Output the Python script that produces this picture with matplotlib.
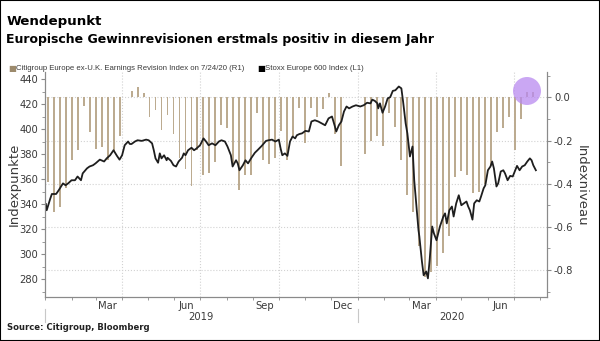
import pandas as pd
import matplotlib.pyplot as plt
import matplotlib.dates as mdates
import matplotlib.ticker as mticker
import matplotlib.transforms as mtransforms
from matplotlib.patches import Ellipse, Rectangle

plt.rcParams['font.family'] = ['DejaVu Sans']
plt.rcParams['axes.unicode_minus'] = False

# Stoxx Europe 600 (linke Achse, Indexpunkte)
stoxx_dates = [
    '2019-01-02', '2019-01-03', '2019-01-07', '2019-01-09', '2019-01-14', '2019-01-17',
    '2019-01-22', '2019-01-25', '2019-01-28', '2019-02-01', '2019-02-05', '2019-02-08',
    '2019-02-12', '2019-02-14', '2019-02-19', '2019-02-22', '2019-02-26', '2019-03-01',
    '2019-03-06', '2019-03-11', '2019-03-14', '2019-03-18', '2019-03-22', '2019-03-26',
    '2019-03-29', '2019-04-01', '2019-04-04', '2019-04-08', '2019-04-10', '2019-04-12',
    '2019-04-16', '2019-04-19', '2019-04-24', '2019-04-29', '2019-05-02', '2019-05-06',
    '2019-05-08', '2019-05-10', '2019-05-13', '2019-05-15', '2019-05-17', '2019-05-20',
    '2019-05-23', '2019-05-24', '2019-05-28', '2019-05-31', '2019-06-03', '2019-06-06',
    '2019-06-10', '2019-06-12', '2019-06-14', '2019-06-17', '2019-06-21', '2019-06-24',
    '2019-06-27', '2019-07-01', '2019-07-05', '2019-07-08', '2019-07-11', '2019-07-15',
    '2019-07-19', '2019-07-23', '2019-07-26', '2019-07-30', '2019-08-02', '2019-08-06',
    '2019-08-08', '2019-08-12', '2019-08-14', '2019-08-16', '2019-08-20', '2019-08-23',
    '2019-08-26', '2019-08-30', '2019-09-03', '2019-09-06', '2019-09-11', '2019-09-16',
    '2019-09-19', '2019-09-23', '2019-09-27', '2019-10-01', '2019-10-03', '2019-10-05',
    '2019-10-08', '2019-10-11', '2019-10-14', '2019-10-17', '2019-10-20', '2019-10-22',
    '2019-10-25', '2019-10-28', '2019-11-01', '2019-11-05', '2019-11-08', '2019-11-12',
    '2019-11-16', '2019-11-20', '2019-11-24', '2019-11-28', '2019-12-02', '2019-12-05',
    '2019-12-07', '2019-12-10', '2019-12-13', '2019-12-16', '2019-12-19', '2019-12-22',
    '2019-12-26', '2019-12-30', '2020-01-04', '2020-01-08', '2020-01-12', '2020-01-16',
    '2020-01-18', '2020-01-21', '2020-01-24', '2020-01-25', '2020-01-27', '2020-01-30',
    '2020-02-02', '2020-02-05', '2020-02-08', '2020-02-11', '2020-02-14', '2020-02-18',
    '2020-02-21', '2020-02-23', '2020-02-26', '2020-02-28', '2020-03-02', '2020-03-05',
    '2020-03-07', '2020-03-10', '2020-03-12', '2020-03-13', '2020-03-16', '2020-03-18',
    '2020-03-21', '2020-03-23', '2020-03-25', '2020-03-28', '2020-03-30', '2020-04-02',
    '2020-04-06', '2020-04-10', '2020-04-12', '2020-04-14', '2020-04-17', '2020-04-20',
    '2020-04-22', '2020-04-25', '2020-04-28', '2020-05-01', '2020-05-04', '2020-05-07',
    '2020-05-09', '2020-05-11', '2020-05-14', '2020-05-16', '2020-05-19', '2020-05-22',
    '2020-05-24', '2020-05-27', '2020-05-29', '2020-06-01', '2020-06-04', '2020-06-06',
    '2020-06-08', '2020-06-11', '2020-06-13', '2020-06-16', '2020-06-19', '2020-06-21',
    '2020-06-24', '2020-06-27', '2020-06-30', '2020-07-03', '2020-07-05', '2020-07-08',
    '2020-07-11', '2020-07-14', '2020-07-17', '2020-07-20', '2020-07-22', '2020-07-24',
    '2020-07-27',
]
stoxx_values = [
    340, 335, 344, 348, 348, 351,
    356.5, 355, 356.5, 359, 359, 362,
    359, 364.5, 368.5, 370, 371, 372.5,
    375.5, 374, 376.5, 379, 383, 378.5,
    375.5, 379, 387, 390, 388, 388,
    390, 391, 390.5, 391.5, 391, 388.5,
    383, 376.5, 373, 380.5, 376.5, 379,
    375, 377, 374.5, 371, 370, 374,
    377, 380.5, 379, 383, 385, 383,
    384.5, 387, 392.5, 390, 387, 388.5,
    387, 390, 391, 390, 386, 379,
    370, 375, 372.5, 367, 371, 375,
    372.5, 377, 381, 383, 386.5, 390.5,
    391, 391.5, 390, 391.5, 384.5, 379,
    380.5, 378.5, 390, 394, 392.5, 395,
    396, 396.5, 398.5, 398, 406, 407,
    406, 404.5, 403, 408.5, 410, 403,
    398, 403, 406, 414, 418, 416.5,
    418, 419, 418, 419, 421, 420.5,
    423.5, 422.5, 420.5, 416.5, 420.5, 413,
    418, 424.5, 425.5, 430.5, 431, 434,
    432.5, 422, 404.5, 396.5, 378, 386,
    359, 335, 319, 314, 294, 283,
    286, 280.5, 295, 322, 316.5, 311,
    322, 330, 332.5, 324.5, 335, 338,
    330, 340.5, 347, 339, 340.5, 342,
    338, 335, 327.5, 340.5, 343, 342,
    346, 352.5, 355, 367, 370, 374,
    368.5, 354, 356.5, 366, 367, 364.5,
    359, 362.5, 362, 367, 370.5, 367,
    370, 371, 374, 376.5, 375, 371,
    367,
]

# Citigroup Europe ex-U.K. Earnings Revision Index, wöchentlich (rechte Achse)
rev_dates = pd.date_range('2019-01-04', '2020-07-24', freq='W-FRI')
rev_values = [
    -0.39, -0.53, -0.51, -0.42, -0.29, -0.245, -0.04, -0.16, -0.24, -0.23,
    -0.29, -0.255, -0.18, 0.0, 0.03, 0.05, 0.02, -0.09, -0.06, -0.15,
    -0.08, -0.17, -0.28, -0.33, -0.41, -0.245, -0.36, -0.35, -0.30, -0.13,
    -0.14, -0.31, -0.43, -0.36, -0.36, -0.07, -0.29, -0.31, -0.28, -0.155,
    -0.29, -0.18, -0.05, -0.21, -0.05, -0.09, -0.055, 0.02, -0.17, -0.32,
    0.0, 0.0, 0.0, -0.26, -0.20, -0.18, -0.225, -0.07, -0.135, -0.29,
    -0.45, -0.53, -0.69, -0.83, -0.81, -0.78, -0.72, -0.64, -0.37, -0.34,
    -0.36, -0.445, -0.44, -0.40, -0.32, -0.16, -0.14, -0.09, -0.245, -0.10,
    0.025, 0.025,
]

bar_color = '#bcab90'
axis_color = '#8a8a8a'
text_color = '#3a3a3a'

fig = plt.figure(figsize=(6, 3.41), dpi=100)
ax = fig.add_axes([45 / 600, 44 / 341, 502 / 600, 225 / 341])
ax2 = ax.twinx()
ax.set_zorder(ax2.get_zorder() + 1)
ax.patch.set_visible(False)

# Balken (R1)
ax2.bar(rev_dates, rev_values, width=2.3, color=bar_color, zorder=3)
ax2.set_ylim(-0.925, 0.118)
ax2.yaxis.set_major_locator(mticker.FixedLocator([-0.8, -0.6, -0.4, -0.2, 0.0]))
ax2.yaxis.set_minor_locator(mticker.MultipleLocator(0.1))
ax2.yaxis.set_major_formatter(mticker.FormatStrFormatter('%.1f'))
ax2.grid(axis='y', linestyle=':', color='#d2d2d2', linewidth=0.8)
for d in pd.date_range('2019-04-01', '2020-07-01', freq='QS'):
    ax2.axvline(d, linestyle=':', color='#d2d2d2', linewidth=0.8, zorder=1)

# Linie (L1)
ax.plot(pd.to_datetime(stoxx_dates), stoxx_values, color='#1e1e1e', linewidth=1.3)
ax.set_ylim(265.6, 445.6)
ax.yaxis.set_minor_locator(mticker.MultipleLocator(10))
ax.set_yticks(range(280, 441, 20))

ax.set_xlim(pd.Timestamp('2019-01-01'), pd.Timestamp('2020-08-09'))
ax.xaxis.set_major_locator(mdates.MonthLocator(bymonth=[3, 6, 9, 12], bymonthday=15))
ax.xaxis.set_major_formatter(mdates.DateFormatter('%b'))
ax.xaxis.set_minor_locator(mdates.MonthLocator())

for a in (ax, ax2):
    a.spines['top'].set_visible(False)
    for s in ('left', 'right', 'bottom'):
        a.spines[s].set_color(axis_color)
ax.tick_params(axis='x', which='major', length=0, pad=3, labelsize=7.2, labelcolor=text_color)
ax.tick_params(axis='x', which='minor', length=2.5, color=axis_color)
ax.tick_params(axis='y', which='both', color=axis_color, labelsize=7.2, labelcolor=text_color)
ax.tick_params(axis='y', which='major', length=3, pad=2)
ax.tick_params(axis='y', which='minor', length=2)
ax2.tick_params(axis='y', which='both', color=axis_color, labelsize=7.2, labelcolor=text_color)
ax2.tick_params(axis='y', which='major', length=3, pad=2)
ax2.tick_params(axis='y', which='minor', length=2)

# Jahresbeschriftung unter der Monatsachse
trans = mtransforms.blended_transform_factory(ax.transData, ax.transAxes)
for start, mid, label in [('2019-01-01', '2019-07-02', '2019'), ('2020-01-01', '2020-04-20', '2020')]:
    ax.plot([pd.Timestamp(start)] * 2, [-0.053, -0.112], transform=trans, color='#c8c8c8',
            linewidth=0.8, clip_on=False)
    ax.text(pd.Timestamp(mid), -0.088, label, transform=trans, ha='center', va='center',
            fontsize=7.2, color=text_color)

fig.text(14 / 600, 1 - 184 / 341, 'Indexpunkte', rotation=90, ha='center', va='center',
         fontsize=9.5, color=text_color)
fig.text(581 / 600, 1 - 186 / 341, 'Indexniveau', rotation=270, ha='center', va='center',
         fontsize=9.5, color=text_color)

# Hervorhebung der letzten positiven Werte
fig.add_artist(Ellipse((527 / 600, 1 - 91 / 341), 28 / 600, 28 / 341, transform=fig.transFigure,
                       facecolor='#b98af0', edgecolor='none', alpha=0.75))

fig.text(7 / 600, 1 - 21 / 341, 'Wendepunkt', fontsize=9.6, fontweight='bold', va='center')
fig.text(6 / 600, 1 - 40 / 341, 'Europische Gewinnrevisionen erstmals positiv in diesem Jahr',
         fontsize=9.0, fontweight='bold', va='center')

legend_font = ['Liberation Sans', 'DejaVu Sans']
fig.text(8 / 600, 1 - 69 / 341, '■', fontsize=6, color='#9c8a6c', va='center')
fig.text(16 / 600, 1 - 69 / 341, 'Citigroup Europe ex-U.K. Earnings Revision Index on 7/24/20 (R1)',
         fontsize=5.6, color=text_color, va='center', family=legend_font)
fig.text(257 / 600, 1 - 69 / 341, '■', fontsize=6, color='black', va='center')
fig.text(265 / 600, 1 - 69 / 341, 'Stoxx Europe 600 Index (L1)', fontsize=5.6, color=text_color,
         va='center', family=legend_font)
fig.text(7 / 600, 1 - 327 / 341, 'Source: Citigroup, Bloomberg', fontsize=6.1, fontweight='bold',
         va='center', color='#222222')

fig.add_artist(Rectangle((0, 0), 1, 1, transform=fig.transFigure, fill=False,
                         edgecolor='black', linewidth=1.5))

fig.savefig('out.png', dpi=100)
